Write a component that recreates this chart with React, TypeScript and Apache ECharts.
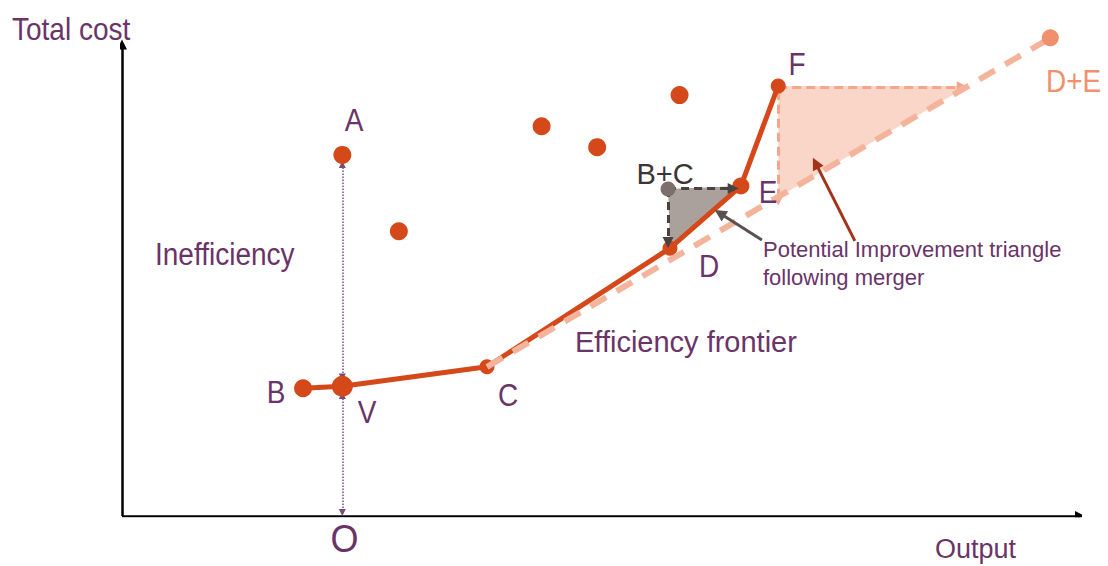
import React, { useEffect, useRef } from "react";
import * as echarts from "echarts";

// Frontier points B, V, C, D, E, F (output, total cost)
const frontierLabels = ["B", "V", "C", "D", "E", "F"];
const frontierX = [18.9, 23.0, 38.1, 57.2, 64.6, 68.5];
const frontierY = [26.3, 26.7, 30.7, 55.1, 67.9, 88.5];
const frontierSizes = [18, 21, 15, 15, 17, 15];

// Inefficient firms (A and others)
const ineffX = [23.0, 28.9, 43.8, 49.6, 58.2];
const ineffY = [74.3, 58.6, 80.2, 75.9, 86.6];

// Merged firms
const mergedBC = [57.0, 67.3];
const mergedDE = [96.9, 98.4];

// Post-merger frontier (dashed), from C towards D+E
const mergerFrontier = [[38.1, 30.7], [96.6, 98.0]];

// Triangles
const grayTriangle = [[57.0, 67.3], [57.2, 55.6], [64.6, 67.9]];
const salmonTriangle = [[68.5, 88.5], [68.5, 65.6], [88.3, 88.5]];

// Arrows
const bcArrows = [
  [[57.0, 67.4], [63.8, 67.4]],
  [[57.0, 67.3], [57.0, 56.3]],
];
const fArrowDown = [[68.5, 87.5], [68.5, 64.8]];
const fArrowRight = [[68.5, 88.3], [87.7, 88.3]];
const dottedArrows = [
  [[23.0, 72.3], [23.0, 28.6]],
  [[23.0, 24.8], [23.0, 0.7]],
];
const grayPointer = [[66.8, 56.8], [62.4, 62.3]];
const redPointer = [[76.5, 56.6], [72.4, 72.6]];
const axisX = [[0, 0], [100, 0]];
const axisY = [[0, 0], [0, 97.0]];

const PURPLE = "#6a3468";
const ORANGE = "#d4481a";
const SALMON = "#f4b49c";
const FONT = "Liberation Sans, Arial, sans-serif";

function txt(text: string, x: number, y: number, size: number, opts: any = {}) {
  return {
    type: "text",
    x,
    y,
    scaleY: opts.scaleY ?? 1,
    silent: true,
    z: 100,
    style: {
      text,
      fill: opts.fill ?? PURPLE,
      fontSize: size,
      fontFamily: FONT,
      align: opts.align ?? "center",
      verticalAlign: "middle",
    },
  };
}

function arrowLine(coords: number[][], color: string, width: number, type: any, symbol: any, size: any, z = 5) {
  return {
    type: "lines",
    coordinateSystem: "cartesian2d",
    z,
    silent: true,
    symbol,
    symbolSize: size,
    lineStyle: { color, width, type, opacity: 1, cap: "butt" },
    data: [{ coords }],
  };
}

function triangle(points: number[][], fill: string, z = 1) {
  return {
    type: "custom",
    z,
    silent: true,
    renderItem: (_p: any, api: any) => ({
      type: "polygon",
      shape: { points: points.map((pt) => api.coord(pt)) },
      style: { fill },
    }),
    data: [[0, 0]],
  };
}

export default function App() {
  const ref = useRef<HTMLDivElement>(null);
  useEffect(() => {
    if (!ref.current) return;
    const chart = echarts.init(ref.current, undefined, { renderer: "svg" });
    const option: any = {
      animation: false,
      backgroundColor: "#ffffff",
      grid: { left: 122, right: 28, top: 30, bottom: 50 },
      xAxis: { type: "value", min: 0, max: 100, show: false },
      yAxis: { type: "value", min: 0, max: 100, show: false },
      series: [
        triangle(salmonTriangle, "#fad6c9", 1),
        triangle(grayTriangle, "#aaa19c", 1),
        arrowLine(axisX, "#000000", 2.5, "solid", ["none", "triangle"], [0, 10], 3),
        arrowLine(axisY, "#000000", 2.5, "solid", ["none", "triangle"], [0, 10], 3),
        ...dottedArrows.map((c) => arrowLine(c, "#7a4a78", 1.5, "dotted", ["triangle", "triangle"], [7, 7], 4)),
        arrowLine(fArrowDown, "#f4a68a", 3, [9, 5], ["triangle", "triangle"], [7, 9], 4),
        arrowLine(fArrowRight, "#f4a68a", 3, [9, 5], ["none", "triangle"], [0, 11], 4),
        {
          type: "line",
          z: 6,
          silent: true,
          symbol: "none",
          lineStyle: { color: ORANGE, width: 5 },
          data: frontierX.map((x, i) => [x, frontierY[i]]),
        },
        {
          type: "scatter",
          z: 7,
          silent: true,
          itemStyle: { color: ORANGE, opacity: 1 },
          data: frontierX.map((x, i) => ({ value: [x, frontierY[i]], symbolSize: frontierSizes[i], name: frontierLabels[i] })),
        },
        arrowLine(mergerFrontier, SALMON, 6, [18, 12], ["none", "none"], 0, 8),
        ...bcArrows.map((c) => arrowLine(c, "#4a4242", 3, [8, 5], ["none", "triangle"], [0, 11], 9)),
        {
          type: "scatter",
          z: 10,
          silent: true,
          symbolSize: 18,
          itemStyle: { color: ORANGE, opacity: 1 },
          data: ineffX.map((x, i) => [x, ineffY[i]]),
        },
        {
          type: "scatter",
          z: 10,
          silent: true,
          symbolSize: 15,
          itemStyle: { color: "#7d706b", opacity: 1 },
          data: [mergedBC],
        },
        {
          type: "scatter",
          z: 10,
          silent: true,
          symbolSize: 17,
          itemStyle: { color: "#f0906c", opacity: 1 },
          data: [mergedDE],
        },
        arrowLine(grayPointer, "#595050", 3, "solid", ["none", "triangle"], [0, 12], 11),
        arrowLine(redPointer, "#a3331a", 3, "solid", ["none", "triangle"], [0, 12], 11),
      ],
      graphic: [
        txt("Total cost", 12, 29, 28, { align: "left", scaleY: 1.15 }),
        txt("Output", 935, 549, 27, { align: "left" }),
        txt("O", 344.5, 538, 36, { scaleY: 1.1 }),
        txt("A", 354, 120, 28, { scaleY: 1.15 }),
        txt("B", 276, 392, 28, { scaleY: 1.15 }),
        txt("V", 367, 412, 28, { scaleY: 1.15 }),
        txt("C", 508, 395, 28, { scaleY: 1.15 }),
        txt("D", 709, 266, 28, { scaleY: 1.15 }),
        txt("E", 768, 192, 28, { scaleY: 1.15 }),
        txt("F", 797, 64, 28, { scaleY: 1.15 }),
        txt("D+E", 1046, 81, 28, { align: "left", fill: "#f0906c", scaleY: 1.1 }),
        txt("B+C", 665, 174, 29, { fill: "#3d3535" }),
        txt("Inefficiency", 155, 254, 28, { align: "left", scaleY: 1.1 }),
        txt("Efficiency frontier", 575, 342, 29, { align: "left" }),
        txt("Potential Improvement triangle", 763, 249, 22, { align: "left" }),
        txt("following merger", 763, 277, 22, { align: "left" }),
      ],
    };
    chart.setOption(option);
    return () => chart.dispose();
  }, []);
  return (
    <div
      ref={ref}
      style={{ position: "fixed", left: 0, top: 0, width: 1108, height: 566, background: "#fff" }}
    />
  );
}
